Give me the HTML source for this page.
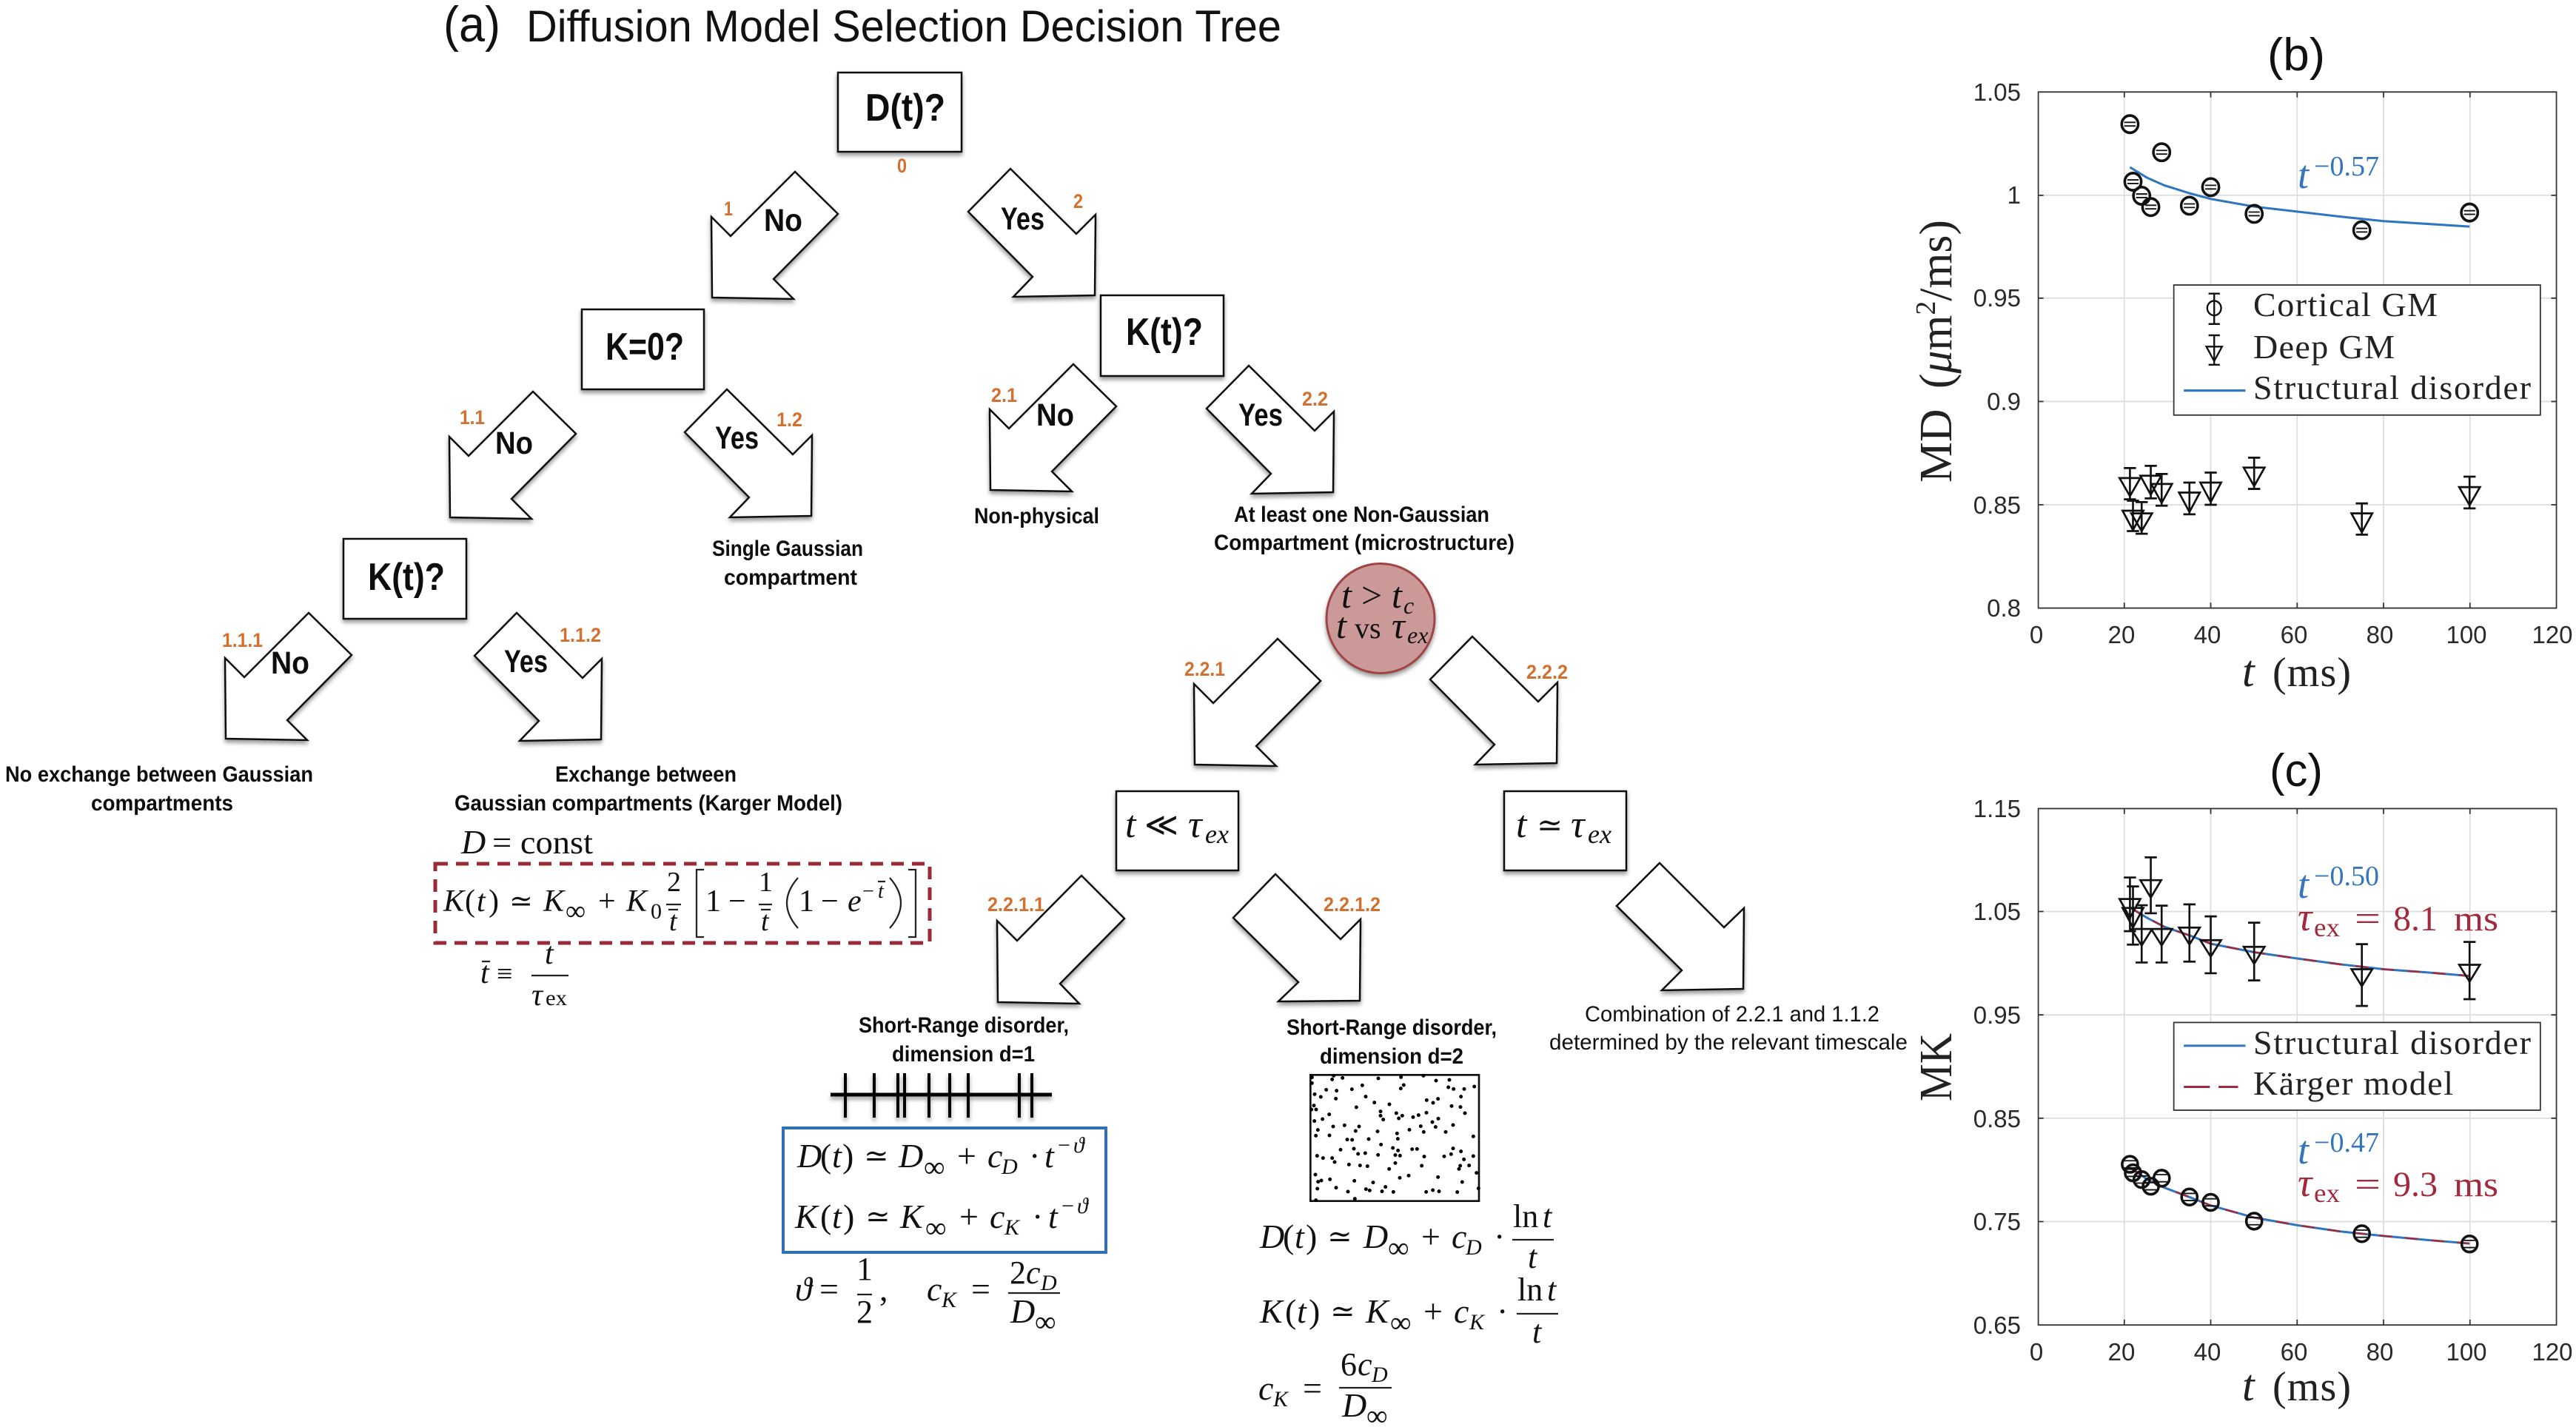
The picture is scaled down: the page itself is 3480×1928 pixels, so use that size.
<!DOCTYPE html>
<html><head><meta charset="utf-8"><style>
html,body{margin:0;padding:0;background:#fff}
svg{display:block;font-size:46px}
text{fill:#111}
.b{font-family:"Liberation Sans",sans-serif;font-weight:bold;fill:#0d0d0d}
.o{font-family:"Liberation Sans",sans-serif;font-weight:bold;fill:#d2702f;font-size:27px}
.s{font-family:"Liberation Sans",sans-serif}
.m{font-family:"Liberation Serif","DejaVu Serif",serif;font-style:italic}
.r{font-family:"Liberation Serif","DejaVu Serif",serif}
.y{font-size:33px;fill:#2a2a2a;text-anchor:end}
.x{font-size:33px;fill:#2a2a2a;text-anchor:middle}
.l{font-family:"Liberation Serif","DejaVu Serif",serif;font-size:46px;fill:#222}
</style></head><body>
<svg xmlns="http://www.w3.org/2000/svg" width="3480" height="1928" viewBox="0 0 3480 1928">
<defs>
<filter id="sh" x="-20%" y="-20%" width="140%" height="140%"><feDropShadow dx="0" dy="4" stdDeviation="3" flood-color="#000" flood-opacity="0.4"/></filter>
<polygon id="dl" points="0,0 58,57 -29,145 -2,172 -112,170 -113,61 -87,87"/>
<polygon id="dr" points="0,0 -57,58 30,146 4,173 114,171 115,62 89,88"/>
</defs>
<rect width="3480" height="1928" fill="#fff"/>

<text x="599" y="56" class="s" font-size="68" textLength="77" lengthAdjust="spacingAndGlyphs">(a)</text>
<text x="711" y="56" class="s" font-size="60" textLength="1020" lengthAdjust="spacingAndGlyphs">Diffusion Model Selection Decision Tree</text>

<g fill="#fff" stroke="#111" stroke-width="2.5" filter="url(#sh)">
<rect x="1132" y="98" width="167" height="107"/>
<rect x="786" y="418" width="165" height="108"/>
<rect x="464" y="728" width="166" height="108"/>
<rect x="1487" y="399" width="166" height="109"/>
<rect x="1508" y="1069" width="165" height="107"/>
<rect x="2032" y="1069" width="165" height="107"/>
<use href="#dl" x="1074" y="232"/>
<use href="#dl" x="720" y="529"/>
<use href="#dl" x="417" y="828"/>
<use href="#dl" x="1450" y="492"/>
<use href="#dl" x="1726" y="863"/>
<use href="#dr" x="1365" y="228"/>
<use href="#dr" x="982" y="526"/>
<use href="#dr" x="698" y="828"/>
<use href="#dr" x="1687" y="494"/>
<use href="#dr" x="1989" y="860"/>
<polygon points="1461,1183 1519,1241 1432,1329 1458,1356 1348,1354 1347,1244 1374,1271"/>
<polygon points="1723,1181 1666,1240 1754,1327 1727,1353 1837,1352 1838,1242 1811,1269"/>
<polygon points="2242,1166 2184,1224 2272,1311 2245,1338 2355,1336 2356,1227 2329,1253"/>
<ellipse cx="1865" cy="835.5" rx="73" ry="74" fill="#cc9999" stroke="#a04545" stroke-width="3"/>
</g>

<text class="b" x="1169" y="163" font-size="52" textLength="108" lengthAdjust="spacingAndGlyphs">D(t)?</text>
<text class="b" x="818" y="486" font-size="52" textLength="106" lengthAdjust="spacingAndGlyphs">K=0?</text>
<text class="b" x="497" y="797" font-size="52" textLength="104" lengthAdjust="spacingAndGlyphs">K(t)?</text>
<text class="b" x="1521" y="466" font-size="52" textLength="104" lengthAdjust="spacingAndGlyphs">K(t)?</text>

<text class="b" font-size="43" x="1032" y="312" textLength="52" lengthAdjust="spacingAndGlyphs">No</text>
<text class="b" font-size="43" x="669" y="613" textLength="51" lengthAdjust="spacingAndGlyphs">No</text>
<text class="b" font-size="43" x="366" y="910" textLength="52" lengthAdjust="spacingAndGlyphs">No</text>
<text class="b" font-size="43" x="1400" y="575" textLength="51" lengthAdjust="spacingAndGlyphs">No</text>
<text class="b" font-size="43" x="966" y="606" textLength="59" lengthAdjust="spacingAndGlyphs">Yes</text>
<text class="b" font-size="43" x="681" y="908" textLength="59" lengthAdjust="spacingAndGlyphs">Yes</text>
<text class="b" font-size="43" x="1352" y="310" textLength="59" lengthAdjust="spacingAndGlyphs">Yes</text>
<text class="b" font-size="43" x="1673" y="575" textLength="60" lengthAdjust="spacingAndGlyphs">Yes</text>

<text class="o" x="1212" y="233" textLength="13" lengthAdjust="spacingAndGlyphs">0</text>
<text class="o" x="978" y="291" textLength="12" lengthAdjust="spacingAndGlyphs">1</text>
<text class="o" x="621" y="573" textLength="34" lengthAdjust="spacingAndGlyphs">1.1</text>
<text class="o" x="1049" y="576" textLength="35" lengthAdjust="spacingAndGlyphs">1.2</text>
<text class="o" x="300" y="874" textLength="55" lengthAdjust="spacingAndGlyphs">1.1.1</text>
<text class="o" x="756" y="867" textLength="56" lengthAdjust="spacingAndGlyphs">1.1.2</text>
<text class="o" x="1450" y="281" textLength="13" lengthAdjust="spacingAndGlyphs">2</text>
<text class="o" x="1339" y="543" textLength="35" lengthAdjust="spacingAndGlyphs">2.1</text>
<text class="o" x="1759" y="548" textLength="35" lengthAdjust="spacingAndGlyphs">2.2</text>
<text class="o" x="1600" y="913" textLength="55" lengthAdjust="spacingAndGlyphs">2.2.1</text>
<text class="o" x="2062" y="917" textLength="56" lengthAdjust="spacingAndGlyphs">2.2.2</text>
<text class="o" x="1334" y="1231" textLength="77" lengthAdjust="spacingAndGlyphs">2.2.1.1</text>
<text class="o" x="1788" y="1231" textLength="77" lengthAdjust="spacingAndGlyphs">2.2.1.2</text>

<text class="b" font-size="30" x="962" y="751" textLength="204" lengthAdjust="spacingAndGlyphs">Single Gaussian</text>
<text class="b" font-size="30" x="978" y="790" textLength="180" lengthAdjust="spacingAndGlyphs">compartment</text>
<text class="b" font-size="30" x="1316" y="707" textLength="169" lengthAdjust="spacingAndGlyphs">Non-physical</text>
<text class="b" font-size="30" x="1667" y="705" textLength="345" lengthAdjust="spacingAndGlyphs">At least one Non-Gaussian</text>
<text class="b" font-size="30" x="1640" y="743" textLength="406" lengthAdjust="spacingAndGlyphs">Compartment (microstructure)</text>
<text class="b" font-size="30" x="7" y="1056" textLength="416" lengthAdjust="spacingAndGlyphs">No exchange between Gaussian</text>
<text class="b" font-size="30" x="123" y="1095" textLength="192" lengthAdjust="spacingAndGlyphs">compartments</text>
<text class="b" font-size="30" x="750" y="1056" textLength="245" lengthAdjust="spacingAndGlyphs">Exchange between</text>
<text class="b" font-size="30" x="614" y="1095" textLength="524" lengthAdjust="spacingAndGlyphs">Gaussian compartments (Karger Model)</text>
<text class="b" font-size="30" x="1160" y="1395" textLength="284" lengthAdjust="spacingAndGlyphs">Short-Range disorder,</text>
<text class="b" font-size="30" x="1205" y="1434" textLength="193" lengthAdjust="spacingAndGlyphs">dimension d=1</text>
<text class="b" font-size="30" x="1738" y="1398" textLength="284" lengthAdjust="spacingAndGlyphs">Short-Range disorder,</text>
<text class="b" font-size="30" x="1783" y="1437" textLength="194" lengthAdjust="spacingAndGlyphs">dimension d=2</text>
<text class="s" font-size="30" x="2141" y="1380" textLength="398" lengthAdjust="spacingAndGlyphs">Combination of 2.2.1 and 1.1.2</text>
<text class="s" font-size="30" x="2093" y="1418" textLength="484" lengthAdjust="spacingAndGlyphs">determined by the relevant timescale</text>

<!-- circle text -->
<text class="m" font-size="50" x="1812" y="821">t</text><text class="r" font-size="50" x="1839" y="821">&gt;</text><text class="m" font-size="50" x="1880" y="821">t</text><text class="m" font-size="32" x="1896" y="829">c</text>
<text class="m" font-size="50" x="1805" y="862">t</text><text class="r" font-size="40" x="1830" y="862">vs</text><text class="m" font-size="50" x="1880" y="862">τ</text><text class="m" font-size="32" x="1901" y="869">ex</text>

<!-- t << tau -->
<text class="m" font-size="52" x="1520" y="1131">t</text><text class="r" font-size="44" x="1546" y="1129">≪</text><text class="m" font-size="52" x="1605" y="1131">τ</text><text class="m" font-size="36" x="1628" y="1139">ex</text>
<text class="m" font-size="52" x="2048" y="1131">t</text><text class="r" font-size="42" x="2076" y="1129">≃</text><text class="m" font-size="52" x="2122" y="1131">τ</text><text class="m" font-size="36" x="2145" y="1139">ex</text>

<!-- Karger -->
<text class="m" font-size="46" x="623" y="1153">D</text><text class="r" font-size="44" x="665" y="1153" textLength="136" lengthAdjust="spacingAndGlyphs">= const</text>
<rect x="588" y="1167" width="668" height="107" fill="none" stroke="#9a2a35" stroke-width="5" stroke-dasharray="17 11"/>
<text class="m" font-size="42" x="599" y="1231">K</text><text class="r" font-size="42" x="628" y="1231">(</text><text class="m" font-size="42" x="644" y="1231">t</text><text class="r" font-size="42" x="660" y="1231">)</text>
<text class="r" font-size="38" x="688" y="1230">≃</text>
<text class="m" font-size="42" x="734" y="1231">K</text><text class="r" font-size="38" x="764" y="1243">∞</text>
<text class="r" font-size="42" x="808" y="1231">+</text>
<text class="m" font-size="42" x="846" y="1231">K</text><text class="r" font-size="30" x="879" y="1241">0</text>
<text class="r" font-size="38" x="901" y="1204">2</text><text class="m" font-size="38" x="904" y="1257">t</text>
<text class="r" font-size="42" x="953" y="1231">1</text><text class="r" font-size="42" x="984" y="1231">−</text>
<text class="r" font-size="38" x="1025" y="1204">1</text><text class="m" font-size="38" x="1028" y="1257">t</text>
<text class="r" font-size="42" x="1079" y="1231">1</text><text class="r" font-size="42" x="1109" y="1231">−</text>
<text class="m" font-size="42" x="1145" y="1231">e</text><text class="r" font-size="28" x="1165" y="1213">−</text><text class="m" font-size="28" x="1186" y="1213">t</text>
<g fill="none" stroke="#222" stroke-width="2.2">
<path d="M900 1222h20M903 1229h13M1025 1222h18M1028 1229h13M951 1175h-10v91h10M1227 1175h10v91h-10M1078 1186Q1048 1220 1078 1254M1202 1186Q1232 1220 1202 1254M1186 1191h10M718 1318h50M651 1299h11"/>
</g>
<text class="m" font-size="42" x="649" y="1328">t</text><text class="r" font-size="38" x="671" y="1328">≡</text>
<text class="m" font-size="42" x="736" y="1302">t</text><text class="m" font-size="42" x="718" y="1358">τ</text><text class="r" font-size="30" x="737" y="1358" textLength="29" lengthAdjust="spacingAndGlyphs">ex</text>

<!-- 1D sticks -->
<g stroke="#000" fill="none" filter="url(#sh)">
<path stroke-width="5" d="M1122 1479H1421"/>
<path stroke-width="4" d="M1142 1450v60M1181 1450v60M1213 1450v60M1222 1450v60M1255 1450v60M1283 1450v60M1308 1450v60M1377 1450v60M1394 1450v60"/>
</g>
<rect x="1058" y="1524" width="436" height="168" fill="none" stroke="#3070b5" stroke-width="4"/>

<!-- blue box formulas -->
<text class="m" x="1077" y="1577">D</text><text class="r" x="1108" y="1577">(</text><text class="m" x="1124" y="1577">t</text><text class="r" x="1138" y="1577">)</text>
<text class="r" font-size="40" x="1167" y="1575">≃</text><text class="m" x="1214" y="1577">D</text><text class="r" font-size="40" x="1248" y="1590">∞</text>
<text class="r" x="1293" y="1577">+</text><text class="m" x="1334" y="1577">c</text><text class="m" font-size="30" x="1353" y="1586">D</text>
<text class="r" x="1390" y="1577">·</text><text class="m" x="1411" y="1577">t</text><text class="r" font-size="30" x="1429" y="1557">−</text><text class="m" font-size="30" x="1450" y="1557">ϑ</text>

<text class="m" x="1074" y="1659">K</text><text class="r" x="1108" y="1659">(</text><text class="m" x="1124" y="1659">t</text><text class="r" x="1139" y="1659">)</text>
<text class="r" font-size="40" x="1169" y="1657">≃</text><text class="m" x="1216" y="1659">K</text><text class="r" font-size="40" x="1250" y="1672">∞</text>
<text class="r" x="1296" y="1659">+</text><text class="m" x="1337" y="1659">c</text><text class="m" font-size="30" x="1357" y="1668">K</text>
<text class="r" x="1394" y="1659">·</text><text class="m" x="1416" y="1659">t</text><text class="r" font-size="30" x="1434" y="1639">−</text><text class="m" font-size="30" x="1455" y="1639">ϑ</text>

<text class="m" x="1074" y="1757">ϑ</text><text class="r" x="1107" y="1757">=</text>
<text class="r" font-size="44" x="1157" y="1729">1</text><text class="r" font-size="44" x="1157" y="1787">2</text><text class="r" x="1188" y="1757">,</text>
<text class="m" x="1252" y="1757">c</text><text class="m" font-size="30" x="1272" y="1766">K</text><text class="r" x="1312" y="1757">=</text>
<text class="r" font-size="44" x="1364" y="1734">2</text><text class="m" font-size="44" x="1386" y="1734">c</text><text class="m" font-size="30" x="1406" y="1743">D</text>
<text class="m" font-size="46" x="1365" y="1787">D</text><text class="r" font-size="40" x="1398" y="1799">∞</text>
<path d="M1158 1749h20M1362 1747h70" stroke="#222" stroke-width="2.2" fill="none"/>

<!-- dots -->
<g transform="translate(1765,1445) scale(.33333)" fill="#000">
<rect x="16" y="22" width="683" height="511" fill="#fff" stroke="#111" stroke-width="8"/>
<path stroke="#000" stroke-width="15" stroke-linecap="round" fill="none" d="M22 32h0M22 55h0M110 25h0M104 40h0M146 34h0M291 36h0M383 31h0M474 25h0M525 45h0M579 42h0M226 64h0M394 63h0M382 77h0M575 72h0M596 79h0M639 79h0M680 69h0M80 82h0M122 86h0M184 80h0M33 100h0M58 111h0M119 118h0M240 110h0M626 110h0M533 119h0M487 124h0M513 135h0M275 134h0M336 141h0M30 146h0M20 162h0M39 162h0M202 153h0M588 148h0M624 152h0M642 177h0M300 170h0M300 187h0M311 203h0M364 177h0M374 198h0M388 187h0M432 193h0M454 185h0M486 175h0M92 182h0M65 201h0M32 209h0M534 199h0M510 213h0M108 231h0M154 226h0M213 231h0M199 249h0M463 230h0M523 233h0M594 225h0M46 245h0M38 268h0M93 267h0M288 251h0M417 244h0M475 253h0M564 253h0M367 259h0M370 281h0M165 284h0M185 285h0M252 282h0M676 271h0M302 304h0M138 325h0M192 321h0M350 318h0M371 328h0M428 323h0M448 322h0M594 320h0M626 332h0M209 342h0M238 339h0M290 346h0M360 347h0M379 349h0M586 343h0M43 350h0M67 359h0M104 359h0M114 375h0M477 353h0M558 352h0M638 364h0M676 351h0M172 385h0M217 389h0M247 392h0M360 379h0M467 390h0M623 390h0M659 389h0M618 403h0M335 403h0M36 426h0M689 419h0M414 430h0M95 445h0M378 439h0M533 436h0M60 450h0M47 455h0M194 451h0M270 458h0M631 456h0M44 483h0M120 479h0M320 476h0M241 485h0M256 490h0M168 495h0M306 494h0M352 496h0M485 496h0M512 489h0M537 494h0M611 497h0M697 482h0M196 524h0M38 530h0"/>
</g>

<!-- right formulas -->
<text class="m" x="1702" y="1686">D</text><text class="r" x="1733" y="1686">(</text><text class="m" x="1749" y="1686">t</text><text class="r" x="1764" y="1686">)</text>
<text class="r" font-size="40" x="1793" y="1684">≃</text><text class="m" x="1842" y="1686">D</text><text class="r" font-size="40" x="1875" y="1699">∞</text>
<text class="r" x="1920" y="1686">+</text><text class="m" x="1961" y="1686">c</text><text class="m" font-size="30" x="1980" y="1695">D</text><text class="r" x="2018" y="1686">·</text>
<text class="r" font-size="44" x="2044" y="1658">ln</text><text class="m" font-size="44" x="2084" y="1658">t</text><text class="m" font-size="44" x="2064" y="1713">t</text>

<text class="m" x="1702" y="1787">K</text><text class="r" x="1736" y="1787">(</text><text class="m" x="1752" y="1787">t</text><text class="r" x="1768" y="1787">)</text>
<text class="r" font-size="40" x="1797" y="1785">≃</text><text class="m" x="1845" y="1787">K</text><text class="r" font-size="40" x="1878" y="1800">∞</text>
<text class="r" x="1923" y="1787">+</text><text class="m" x="1964" y="1787">c</text><text class="m" font-size="30" x="1985" y="1796">K</text><text class="r" x="2022" y="1787">·</text>
<text class="r" font-size="44" x="2050" y="1757">ln</text><text class="m" font-size="44" x="2090" y="1757">t</text><text class="m" font-size="44" x="2070" y="1814">t</text>

<text class="m" x="1700" y="1891">c</text><text class="m" font-size="30" x="1720" y="1900">K</text><text class="r" x="1760" y="1891">=</text>
<text class="r" font-size="44" x="1811" y="1858">6</text><text class="m" font-size="44" x="1834" y="1858">c</text><text class="m" font-size="30" x="1853" y="1867">D</text>
<text class="m" x="1813" y="1914">D</text><text class="r" font-size="40" x="1846" y="1926">∞</text>
<path d="M2043 1675h56M2049 1775h56M1809 1875h71" stroke="#222" stroke-width="2.2" fill="none"/>

<!-- PLOT B -->
<g transform="matrix(.5867 0 0 .6122 2560 0)" fill="none">
<path stroke="#ddd" stroke-width="3" d="M528 203V1342M727 203V1342M926 203V1342M1125 203V1342M1324 203V1342M330 431H1523M330 658H1523M330 886H1523M330 1114H1523"/>
<rect x="330" y="203" width="1193" height="1139" stroke="#333" stroke-width="3"/>
<path stroke="#333" stroke-width="3" d="M528 203v12M727 203v12M926 203v12M1125 203v12M1324 203v12M528 1342v-12M727 1342v-12M926 1342v-12M1125 1342v-12M1324 1342v-12M330 431h12M330 658h12M330 886h12M330 1114h12M1523 431h-12M1523 658h-12M1523 886h-12M1523 1114h-12"/>
<polyline stroke="#2f75c0" stroke-width="5" points="541,369 580,392 620,409 680,427 727,439 827,456 926,467 1025,478 1125,488 1224,494 1323,500"/>
<g stroke="#111" stroke-width="6">
<circle cx="541" cy="274" r="19"/><circle cx="548" cy="401" r="19"/><circle cx="568" cy="432" r="19"/><circle cx="589" cy="457" r="19"/><circle cx="614" cy="336" r="19"/><circle cx="678" cy="454" r="19"/><circle cx="727" cy="413" r="19"/><circle cx="827" cy="472" r="19"/><circle cx="1075" cy="508" r="19"/><circle cx="1323" cy="469" r="19"/>
</g>
<path stroke="#111" stroke-width="3" d="M528 270h26M528 278h26M535 397h26M535 405h26M555 428h26M555 436h26M576 453h26M576 461h26M601 332h26M601 340h26M665 450h26M665 458h26M714 409h26M714 417h26M814 468h26M814 476h26M1062 504h26M1062 512h26M1310 465h26M1310 473h26"/>
<g stroke="#111" stroke-width="4.5">
<path d="M517 1055H565L541 1095ZM524 1127H572L548 1170ZM544 1133H592L568 1172ZM565 1050H613L589 1092ZM590 1068H638L614 1110ZM654 1087H702L678 1130ZM703 1065H751L727 1108ZM803 1032H851L827 1073ZM1051 1133H1099L1075 1175ZM1299 1075H1347L1323 1115Z"/>
<path d="M541 1033V1102M527 1033h28M527 1102h28M548 1105V1172M534 1105h28M534 1172h28M568 1108V1178M554 1108h28M554 1178h28M589 1028V1100M575 1028h28M575 1100h28M614 1046V1116M600 1046h28M600 1116h28M678 1065V1135M664 1065h28M664 1135h28M727 1043V1114M713 1043h28M713 1114h28M827 1010V1079M813 1010h28M813 1079h28M1075 1111V1180M1061 1111h28M1061 1180h28M1323 1052V1122M1309 1052h28M1309 1122h28"/>
</g>
<rect x="642" y="629" width="844" height="287" fill="#fff" stroke="#333" stroke-width="3"/>
<g stroke="#111" stroke-width="4">
<circle cx="735" cy="680" r="16"/>
<path d="M735 648V715M722 648h26M722 715h26M735 740V805M722 740h26M722 805h26M717 765H753L735 797Z"/>
</g>
<path stroke="#2f75c0" stroke-width="5" d="M665 862H807"/>
</g>
<text class="s" x="3063" y="95" font-size="62" textLength="78" lengthAdjust="spacingAndGlyphs">(b)</text>
<text class="s y" x="2730" y="136">1.05</text><text class="s y" x="2730" y="275">1</text><text class="s y" x="2730" y="414">0.95</text><text class="s y" x="2730" y="554">0.9</text><text class="s y" x="2730" y="694">0.85</text><text class="s y" x="2730" y="833">0.8</text>
<text class="s x" x="2751" y="869">0</text><text class="s x" x="2866" y="869">20</text><text class="s x" x="2982" y="869">40</text><text class="s x" x="3099" y="869">60</text><text class="s x" x="3215" y="869">80</text><text class="s x" x="3332" y="869">100</text><text class="s x" x="3448" y="869">120</text>
<text class="r" font-size="62" style="fill:#222" transform="translate(2636,652) rotate(-90)" textLength="355" lengthAdjust="spacingAndGlyphs">MD <tspan dx="12">(</tspan><tspan font-style="italic">μ</tspan>m<tspan font-size="38" dy="-22">2</tspan><tspan dy="22">/ms)</tspan></text>
<text class="m" font-size="54" x="3104" y="254" style="fill:#3575bd">t</text><text class="r" font-size="38" x="3126" y="237" style="fill:#3575bd" textLength="88" lengthAdjust="spacingAndGlyphs">−0.57</text>
<text class="l" x="3044" y="427" textLength="249" lengthAdjust="spacing">Cortical GM</text>
<text class="l" x="3044" y="484" textLength="191" lengthAdjust="spacing">Deep GM</text>
<text class="l" x="3044" y="539" textLength="375" lengthAdjust="spacing">Structural disorder</text>
<text class="m" font-size="60" x="3029" y="927" style="fill:#222">t</text><text class="r" font-size="56" x="3070" y="927" style="fill:#222" textLength="106" lengthAdjust="spacing">(ms)</text>

<!-- PLOT C -->
<g transform="matrix(.5867 0 0 .6046 2560 980)" fill="none">
<path stroke="#ddd" stroke-width="3" d="M528 186V1340M727 186V1340M926 186V1340M1125 186V1340M1324 186V1340M330 416H1523M330 647H1523M330 878H1523M330 1109H1523"/>
<rect x="330" y="186" width="1193" height="1154" stroke="#333" stroke-width="3"/>
<path stroke="#333" stroke-width="3" d="M528 186v12M727 186v12M926 186v12M1125 186v12M1324 186v12M528 1340v-12M727 1340v-12M926 1340v-12M1125 1340v-12M1324 1340v-12M330 416h12M330 647h12M330 878h12M330 1109h12M1523 416h-12M1523 647h-12M1523 878h-12M1523 1109h-12"/>
<polyline stroke="#2f75c0" stroke-width="5" points="541,407 580,430 620,450 680,470 727,488 827,507 926,521 1025,534 1125,545 1224,552 1323,560"/>
<polyline stroke="#2f75c0" stroke-width="5" points="541,988 580,1014 620,1033 680,1055 727,1073 827,1100 926,1117 1025,1131 1125,1141 1224,1150 1323,1158"/>
<polyline stroke="#a32a3d" stroke-width="4" stroke-dasharray="30 30" points="541,407 580,430 620,450 680,470 727,488 827,507 926,521 1025,534 1125,545 1224,552 1323,560"/>
<polyline stroke="#a32a3d" stroke-width="4" stroke-dasharray="30 30" points="541,988 580,1014 620,1033 680,1055 727,1073 827,1100 926,1117 1025,1131 1125,1141 1224,1150 1323,1158"/>
<g stroke="#111" stroke-width="4.5">
<path d="M517 388H565L541 430ZM524 408H572L548 452ZM544 455H592L568 492ZM565 346H613L589 385ZM590 455H638L614 492ZM654 452H702L678 490ZM703 480H751L727 517ZM803 495H851L827 533ZM1051 545H1099L1075 583ZM1299 535H1347L1323 573Z"/>
<path d="M541 340V460M527 340h28M527 460h28M548 360V490M534 360h28M534 490h28M568 402V530M554 402h28M554 530h28M589 295V420M575 295h28M575 420h28M614 403V530M600 403h28M600 530h28M678 400V528M664 400h28M664 528h28M727 427V554M713 427h28M713 554h28M827 441V570M813 441h28M813 570h28M1075 489V627M1061 489h28M1061 627h28M1323 484V612M1309 484h28M1309 612h28"/>
</g>
<g stroke="#111" stroke-width="6">
<circle cx="541" cy="981" r="18"/><circle cx="548" cy="1000" r="18"/><circle cx="568" cy="1015" r="18"/><circle cx="589" cy="1030" r="18"/><circle cx="614" cy="1012" r="18"/><circle cx="678" cy="1054" r="18"/><circle cx="727" cy="1066" r="18"/><circle cx="827" cy="1108" r="18"/><circle cx="1075" cy="1136" r="18"/><circle cx="1323" cy="1159" r="18"/>
</g>
<path stroke="#111" stroke-width="3" d="M528 973h26M528 989h26M535 992h26M535 1008h26M555 1007h26M555 1023h26M576 1022h26M576 1038h26M601 1004h26M601 1020h26M665 1046h26M665 1062h26M714 1058h26M714 1074h26M814 1100h26M814 1116h26M1062 1128h26M1062 1144h26M1310 1151h26M1310 1167h26"/>
<rect x="642" y="664" width="844" height="196" fill="#fff" stroke="#333" stroke-width="3"/>
<path stroke="#2f75c0" stroke-width="5" d="M665 716H807"/>
<path stroke="#a32a3d" stroke-width="5" d="M665 808H725M745 808H790"/>
</g>
<text class="s" x="3066" y="1062" font-size="62" textLength="72" lengthAdjust="spacingAndGlyphs">(c)</text>
<text class="s y" x="2730" y="1104">1.15</text><text class="s y" x="2730" y="1243">1.05</text><text class="s y" x="2730" y="1383">0.95</text><text class="s y" x="2730" y="1523">0.85</text><text class="s y" x="2730" y="1662">0.75</text><text class="s y" x="2730" y="1802">0.65</text>
<text class="s x" x="2751" y="1838">0</text><text class="s x" x="2866" y="1838">20</text><text class="s x" x="2982" y="1838">40</text><text class="s x" x="3099" y="1838">60</text><text class="s x" x="3215" y="1838">80</text><text class="s x" x="3332" y="1838">100</text><text class="s x" x="3448" y="1838">120</text>
<text class="r" font-size="62" style="fill:#222" transform="translate(2636,1488) rotate(-90)" textLength="92" lengthAdjust="spacingAndGlyphs">MK</text>
<text class="m" font-size="54" x="3104" y="1213" style="fill:#3575bd">t</text><text class="r" font-size="38" x="3126" y="1196" style="fill:#3575bd" textLength="88" lengthAdjust="spacingAndGlyphs">−0.50</text>
<text class="m" font-size="54" x="3104" y="1572" style="fill:#3575bd">t</text><text class="r" font-size="38" x="3126" y="1556" style="fill:#3575bd" textLength="88" lengthAdjust="spacingAndGlyphs">−0.47</text>
<text class="m" font-size="54" x="3104" y="1257" style="fill:#a32a3d">τ</text><text class="r" font-size="36" x="3126" y="1265" style="fill:#a32a3d" textLength="35" lengthAdjust="spacingAndGlyphs">ex</text><text class="r" font-size="48" x="3181" y="1257" style="fill:#a32a3d" textLength="35" lengthAdjust="spacingAndGlyphs">=</text><text class="r" font-size="48" x="3233" y="1257" style="fill:#a32a3d" textLength="60" lengthAdjust="spacingAndGlyphs">8.1</text><text class="r" font-size="48" x="3315" y="1257" style="fill:#a32a3d" textLength="60" lengthAdjust="spacingAndGlyphs">ms</text>
<text class="m" font-size="54" x="3104" y="1616" style="fill:#a32a3d">τ</text><text class="r" font-size="36" x="3126" y="1624" style="fill:#a32a3d" textLength="35" lengthAdjust="spacingAndGlyphs">ex</text><text class="r" font-size="48" x="3181" y="1616" style="fill:#a32a3d" textLength="35" lengthAdjust="spacingAndGlyphs">=</text><text class="r" font-size="48" x="3233" y="1616" style="fill:#a32a3d" textLength="60" lengthAdjust="spacingAndGlyphs">9.3</text><text class="r" font-size="48" x="3315" y="1616" style="fill:#a32a3d" textLength="60" lengthAdjust="spacingAndGlyphs">ms</text>
<text class="l" x="3044" y="1424" textLength="375" lengthAdjust="spacing">Structural disorder</text>
<text class="l" x="3044" y="1479" textLength="270" lengthAdjust="spacing">Kärger model</text>
<text class="m" font-size="60" x="3029" y="1892" style="fill:#222">t</text><text class="r" font-size="56" x="3070" y="1892" style="fill:#222" textLength="106" lengthAdjust="spacing">(ms)</text>
</svg>
</body></html>
